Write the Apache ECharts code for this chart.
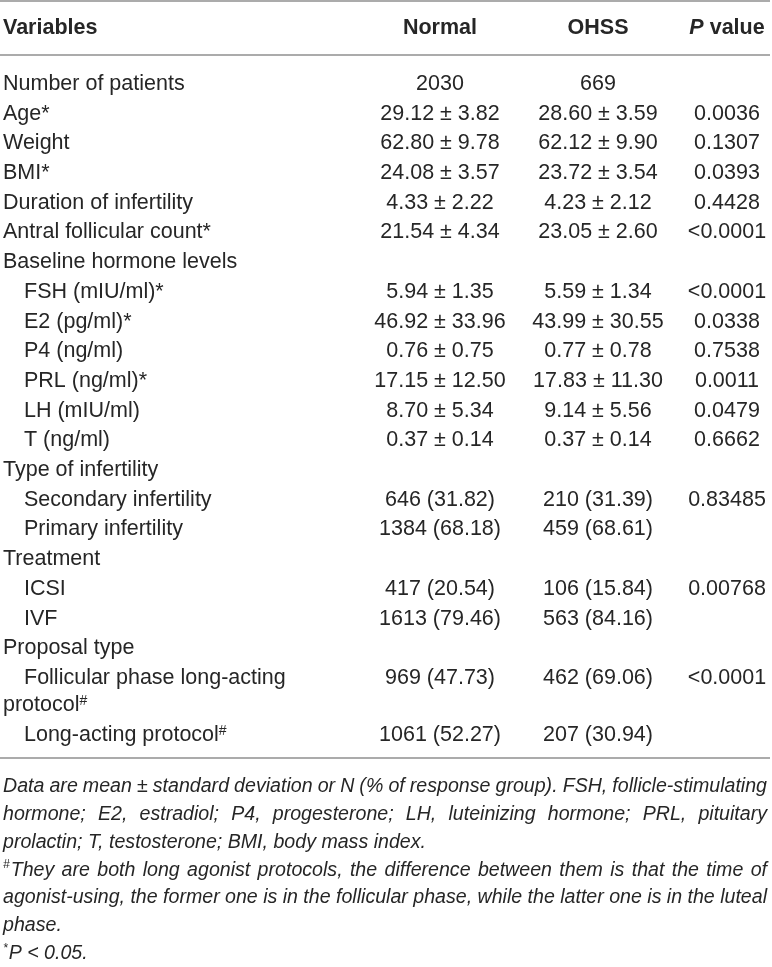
<!DOCTYPE html>
<html>
<head>
<meta charset="utf-8">
<script src="https://cdn.jsdelivr.net/npm/echarts@6/dist/echarts.min.js"></script>
<style>
  html, body { margin: 0; padding: 0; background: #fff; }
  #main { width: 772px; height: 967px; }
</style>
</head>
<body>
<div id="main"></div>
<script>
// table content
var headers = ['Variables', 'Normal', 'OHSS', '{pi|P} value'];
var variables = ['Number of patients', 'Age*', 'Weight', 'BMI*', 'Duration of infertility',
  'Antral follicular count*', 'Baseline hormone levels', 'FSH (mIU/ml)*', 'E2 (pg/ml)*',
  'P4 (ng/ml)', 'PRL (ng/ml)*', 'LH (mIU/ml)', 'T (ng/ml)', 'Type of infertility',
  'Secondary infertility', 'Primary infertility', 'Treatment', 'ICSI', 'IVF', 'Proposal type',
  'Follicular phase long-acting\nprotocol{sup|#}', 'Long-acting protocol{sup|#}'];
var indentLevel = [0, 0, 0, 0, 0, 0, 0, 1, 1, 1, 1, 1, 1, 0, 1, 1, 0, 1, 1, 0, 1, 1];
var normalValues = ['2030', '29.12 ± 3.82', '62.80 ± 9.78', '24.08 ± 3.57', '4.33 ± 2.22',
  '21.54 ± 4.34', '', '5.94 ± 1.35', '46.92 ± 33.96', '0.76 ± 0.75', '17.15 ± 12.50',
  '8.70 ± 5.34', '0.37 ± 0.14', '', '646 (31.82)', '1384 (68.18)', '', '417 (20.54)',
  '1613 (79.46)', '', '969 (47.73)', '1061 (52.27)'];
var ohssValues = ['669', '28.60 ± 3.59', '62.12 ± 9.90', '23.72 ± 3.54', '4.23 ± 2.12',
  '23.05 ± 2.60', '', '5.59 ± 1.34', '43.99 ± 30.55', '0.77 ± 0.78', '17.83 ± 11.30',
  '9.14 ± 5.56', '0.37 ± 0.14', '', '210 (31.39)', '459 (68.61)', '', '106 (15.84)',
  '563 (84.16)', '', '462 (69.06)', '207 (30.94)'];
var pValues = ['', '0.0036', '0.1307', '0.0393', '0.4428', '<0.0001', '', '<0.0001', '0.0338',
  '0.7538', '0.0011', '0.0479', '0.6662', '', '0.83485', '', '', '0.00768', '', '', '<0.0001', ''];

var footnoteLines = [
  'Data are mean ± standard deviation or N (% of response group). FSH, follicle-stimulating',
  'hormone; E2, estradiol; P4, progesterone; LH, luteinizing hormone; PRL, pituitary',
  'prolactin; T, testosterone; BMI, body mass index.',
  'They are both long agonist protocols, the difference between them is that the time of',
  'agonist-using, the former one is in the follicular phase, while the latter one is in the luteal',
  'phase.',
  'P < 0.05.'
];
var footnoteSup = ['', '', '', '#', '', '', '*'];
var footnoteJustify = [true, true, false, true, true, false, false];

// layout
var W = 772, H = 967;
var FONT = '"Liberation Sans", Arial, sans-serif';
var INK = '#262626';
var cellSize = 21.5;
var labelX = 3, indentX = 24;
var colX = [440, 598, 727];
var headerY = 28, firstRowY = 84, rowStep = 29.7, wrapStep = 27.5;
var rules = [1, 55, 758];
var noteY = 787, noteStep = 27.7, noteRight = 767;

var rich = {
  sup: { fontFamily: FONT, fontSize: 14, fill: INK, verticalAlign: 'top', lineHeight: 22 },
  pi: { fontFamily: FONT, fontSize: cellSize, fontWeight: 'bold', fontStyle: 'italic', fill: INK }
};

var cells = [];

// header
headers.forEach(function (h, i) {
  cells.push({ x: i === 0 ? labelX : colX[i - 1], y: headerY, text: h,
    align: i === 0 ? 'left' : 'center', bold: true, size: cellSize });
});

// body rows
var y = firstRowY;
variables.forEach(function (v, i) {
  var parts = v.split('\n');
  parts.forEach(function (p, k) {
    cells.push({ x: (k === 0 && indentLevel[i]) ? indentX : labelX,
      y: y + k * wrapStep, text: p, align: 'left', size: cellSize });
  });
  [normalValues[i], ohssValues[i], pValues[i]].forEach(function (val, c) {
    if (val) cells.push({ x: colX[c], y: y, text: val, align: 'center', size: cellSize });
  });
  y += rowStep + (parts.length - 1) * wrapStep;
});

// footnote, justified like the source
var ctx = document.createElement('canvas').getContext('2d');
function supWidth(s) {
  ctx.font = 'italic 12px ' + FONT;
  return s ? ctx.measureText(s).width + 1 : 0;
}
// largest size (up to 19.6px) at which every justified line still fits
var noteSize = 19.6;
footnoteLines.forEach(function (txt, i) {
  if (!footnoteJustify[i]) return;
  ctx.font = 'italic 10px ' + FONT;
  var words = txt.split(' ');
  var w10 = words.reduce(function (a, w) { return a + ctx.measureText(w).width; }, 0);
  var avail = noteRight - labelX - supWidth(footnoteSup[i]);
  var fit = 10 * avail / (w10 + (words.length - 1) * 2.2);
  noteSize = Math.min(noteSize, fit);
});

footnoteLines.forEach(function (txt, i) {
  var ly = noteY + i * noteStep;
  var x0 = labelX;
  if (footnoteSup[i]) {
    cells.push({ x: x0, y: ly - 5, text: footnoteSup[i], align: 'left', size: 12, italic: true });
    x0 += supWidth(footnoteSup[i]);
  }
  ctx.font = 'italic ' + noteSize + 'px ' + FONT;
  if (!footnoteJustify[i]) {
    cells.push({ x: x0, y: ly, text: txt, align: 'left', size: noteSize, italic: true });
    return;
  }
  var words = txt.split(' ');
  var widths = words.map(function (w) { return ctx.measureText(w).width; });
  var sum = widths.reduce(function (a, b) { return a + b; }, 0);
  var gap = (noteRight - x0 - sum) / (words.length - 1);
  var x = x0;
  words.forEach(function (w, k) {
    cells.push({ x: x, y: ly, text: w, align: 'left', size: noteSize, italic: true });
    x += widths[k] + gap;
  });
});

var myChart = echarts.init(document.getElementById('main'));

myChart.setOption({
  animation: false,
  grid: { left: 0, right: 0, top: 0, bottom: 0 },
  xAxis: { type: 'value', min: 0, max: W, show: false },
  yAxis: { type: 'value', min: 0, max: H, inverse: true, show: false },
  series: [
    {
      type: 'custom',
      data: rules.map(function (r) { return [0, r]; }),
      renderItem: function (params, api) {
        var a = api.coord([0, api.value(1)]);
        var b = api.coord([770, api.value(1)]);
        return { type: 'line', shape: { x1: a[0], y1: a[1], x2: b[0], y2: b[1] },
          style: { stroke: '#8f8f8f', lineWidth: 1.4 } };
      }
    },
    {
      type: 'custom',
      data: cells.map(function (c) { return [c.x, c.y]; }),
      renderItem: function (params, api) {
        var c = cells[params.dataIndex];
        var p = api.coord([api.value(0), api.value(1)]);
        return {
          type: 'text', x: p[0], y: p[1],
          style: {
            text: c.text, fontFamily: FONT, fontSize: c.size,
            fontWeight: c.bold ? 'bold' : 'normal',
            fontStyle: c.italic ? 'italic' : 'normal',
            fill: INK, align: c.align, verticalAlign: 'middle', rich: rich
          }
        };
      }
    }
  ]
});
</script>
</body>
</html>
